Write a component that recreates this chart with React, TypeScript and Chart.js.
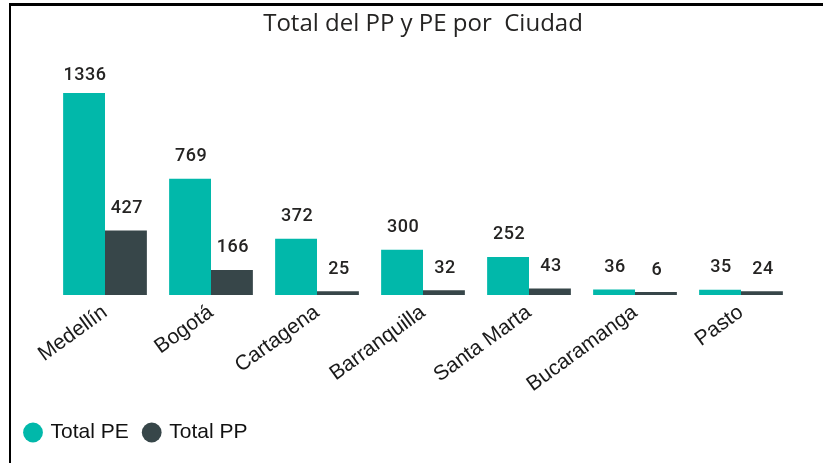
import { useEffect, useRef } from 'react';
import { Chart, registerables } from 'chart.js';

Chart.register(...registerables);

const categories = ['Medellín', 'Bogotá', 'Cartagena', 'Barranquilla', 'Santa Marta', 'Bucaramanga', 'Pasto'];
const totalPE = [1336, 769, 372, 300, 252, 36, 35];
const totalPP = [427, 166, 25, 32, 43, 6, 24];
const seriesNames = ['Total PE', 'Total PP'];
const titleText = 'Total del PP y PE por  Ciudad';

const PE_COLOR = '#01B8AA';
const PP_COLOR = '#374649';

const titlePlugin = {
  id: 'customTitle',
  afterDraw(chart: any) {
    const { ctx, chartArea } = chart;
    ctx.save();
    ctx.font = '24px "Open Sans"';
    ctx.fillStyle = '#252423';
    ctx.textAlign = 'center';
    ctx.textBaseline = 'middle';
    ctx.fillText(titleText, (chartArea.left + chartArea.right) / 2, 24);
    ctx.restore();
  },
};

const dataLabelPlugin = {
  id: 'dataLabels',
  afterDatasetsDraw(chart: any) {
    const { ctx, chartArea } = chart;
    ctx.save();
    ctx.font = '500 18px Roboto';
    (ctx as any).letterSpacing = '0.5px';
    ctx.fillStyle = '#252423';
    ctx.textAlign = 'center';
    ctx.textBaseline = 'middle';
    chart.data.datasets.forEach((ds: any, di: number) => {
      const meta = chart.getDatasetMeta(di);
      meta.data.forEach((bar: any, i: number) => {
        const y = Math.max(bar.y - 22, chartArea.top + 22);
        ctx.fillText(String(ds.data[i]), bar.x + 1, y);
      });
    });
    ctx.restore();
  },
};

export default function App() {
  const canvasRef = useRef<HTMLCanvasElement | null>(null);

  useEffect(() => {
    document.body.style.margin = '0';
    const canvas = canvasRef.current;
    if (!canvas) return;
    const chart = new Chart(canvas, {
      type: 'bar',
      data: {
        labels: categories,
        datasets: [
          { label: seriesNames[0], data: totalPE, backgroundColor: PE_COLOR, borderWidth: 0, minBarLength: 3 },
          { label: seriesNames[1], data: totalPP, backgroundColor: PP_COLOR, borderWidth: 0, minBarLength: 3 },
        ],
      },
      options: {
        animation: false,
        responsive: false,
        maintainAspectRatio: false,
        layout: { padding: { left: 10, right: 29, top: 53, bottom: 10 } },
        datasets: { bar: { categoryPercentage: 0.79, barPercentage: 1.0 } },
        scales: {
          x: {
            grid: { display: false, drawTicks: false },
            border: { display: false },
            ticks: {
              minRotation: 36,
              maxRotation: 36,
              autoSkip: false,
              padding: 5,
              color: '#1a1a1a',
              font: { family: '"Liberation Sans", Arial, sans-serif', size: 21 },
            },
            afterFit: (scale: any) => { scale.height = 111; },
          },
          y: {
            min: 0,
            max: 1600,
            grid: { display: false, drawTicks: false },
            border: { display: false },
            ticks: { display: false },
            afterFit: (scale: any) => { scale.width = 42; },
          },
        },
        plugins: {
          title: { display: false },
          tooltip: { enabled: false },
          legend: {
            display: true,
            position: 'bottom',
            align: 'start',
            labels: {
              usePointStyle: true,
              pointStyle: 'circle',
              boxWidth: 14,
              boxHeight: 14,
              padding: 16,
              color: '#111',
              font: { family: '"Liberation Sans", Arial, sans-serif', size: 21 },
            },
          },
        },
      },
      plugins: [titlePlugin, dataLabelPlugin],
    });
    return () => chart.destroy();
  }, []);

  return (
    <div style={{ position: 'relative', width: 823, height: 463, overflow: 'hidden', background: '#fff' }}>
      <canvas ref={canvasRef} width={823} height={463} style={{ display: 'block', width: 823, height: 463 }} />
      <div
        style={{
          position: 'absolute',
          left: 9,
          top: 3,
          width: 830,
          height: 480,
          borderTop: '3px solid #000',
          borderLeft: '2px solid #000',
          boxSizing: 'border-box',
          pointerEvents: 'none',
        }}
      />
    </div>
  );
}
